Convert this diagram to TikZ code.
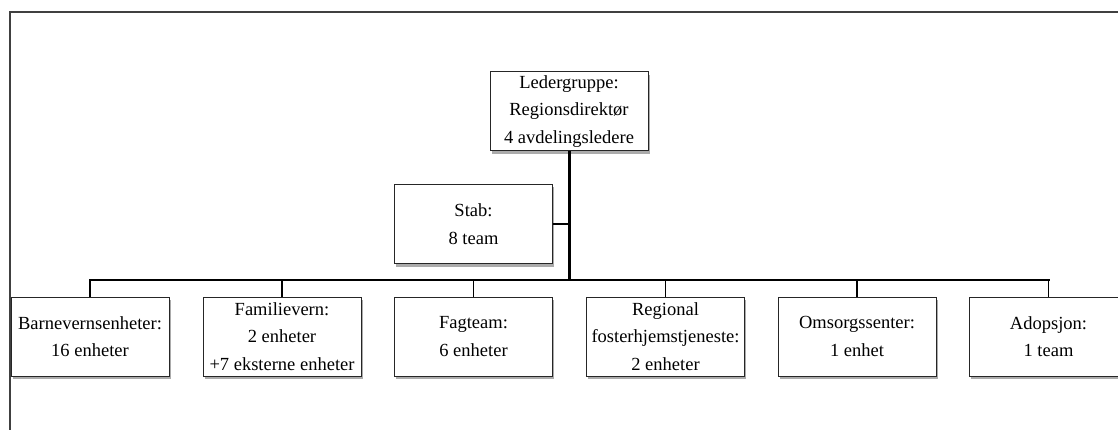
\documentclass[tikz,border=0pt]{standalone}
\usepackage{fontspec}
\setmainfont{Liberation Serif}
\usetikzlibrary{shadows}
\begin{document}
\begin{tikzpicture}[x=1pt,y=-1pt,
  unitbox/.style={draw=black!85, line width=1pt, fill=white,
    minimum width=158pt, minimum height=79pt, inner sep=0pt,
    align=center, font=\fontsize{18.5}{27.5}\selectfont,
    drop shadow={shadow xshift=1.8pt, shadow yshift=-3pt, fill=black!55, opacity=0.6}},
  trunk/.style={line width=3pt},
  busline/.style={line width=2.4pt, line cap=rect},
  dropline/.style={line width=1.8pt},
  sideline/.style={line width=1.3pt},
  frameline/.style={draw=black!75, line width=1.6pt}]
  \useasboundingbox (0,0) rectangle (1118,430);
  \fill[white] (0,0) rectangle (1118,430);

  % outer frame
  \coordinate (fl) at (10,440);
  \coordinate (fc) at (10,12);
  \coordinate (fr) at (1130,12);
  \draw[frameline] (fl) -- (fc) -- (fr);

  % management and staff
  \node[unitbox] (lead) at (569,111.5) {Ledergruppe:\\Regionsdirektør\\4 avdelingsledere};
  \node[unitbox] (stab) at (473.5,224) {Stab:\\8 team};

  % units
  \node[unitbox] (barn) at (90,336.5)    {Barnevernsenheter:\\16 enheter};
  \node[unitbox] (fam)  at (282,336.5)   {Familievern:\\2 enheter\\+7 eksterne enheter};
  \node[unitbox] (fag)  at (473.5,336.5) {Fagteam:\\6 enheter};
  \node[unitbox] (reg)  at (665.5,336.5) {Regional\\fosterhjemstjeneste:\\2 enheter};
  \node[unitbox] (oms)  at (857,336.5)   {Omsorgssenter:\\1 enhet};
  \node[unitbox] (ado)  at (1048.5,336.5) {Adopsjon:\\1 team};

  % connectors
  \coordinate (hub) at (569,280);
  \draw[trunk] (lead.south) -- (hub);
  \draw[sideline] (stab.east) -- (stab.east -| lead.south);
  \draw[busline] (barn.north |- hub) -- (ado.north |- hub);
  \foreach \u in {barn,fam,fag,reg,oms,ado}
    \draw[dropline] (\u.north) -- (\u.north |- hub);
\end{tikzpicture}
\end{document}
